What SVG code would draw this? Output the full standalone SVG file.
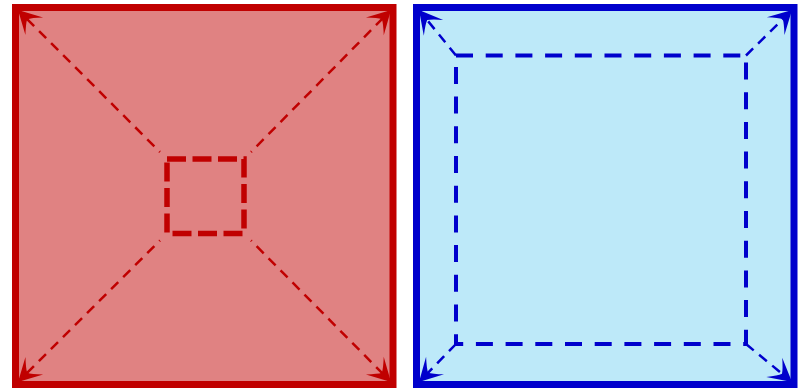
<svg xmlns="http://www.w3.org/2000/svg" width="805" height="388" viewBox="0 0 805 388">
<style>
.redbox{fill:#e08282;stroke:#c00000;stroke-width:7}
.bluebox{fill:#bde9f9;stroke:#0000cc;stroke-width:7}
.redin{fill:none;stroke:#c00000;stroke-width:5.5;stroke-dasharray:19 6.5}
.bluein{fill:none;stroke:#0000cc;stroke-width:4;stroke-dasharray:17 12.7}
.reddiag{fill:none;stroke:#c00000;stroke-width:2.5;stroke-dasharray:10 7;stroke-dashoffset:9;marker-end:url(#ar)}
.bluediag{fill:none;stroke:#0000cc;stroke-width:2.5;stroke-dasharray:10 7;marker-end:url(#ab)}
</style>
<defs>
<marker id="ar" markerUnits="userSpaceOnUse" viewBox="-26 -14 28 28" refX="0" refY="0" markerWidth="28" markerHeight="28" orient="auto">
<path d="M0,0 L-23,-12.5 Q-15,-4 -13,0 Q-15,4 -23,12.5 Z" fill="#c00000"/>
</marker>
<marker id="ab" markerUnits="userSpaceOnUse" viewBox="-26 -14 28 28" refX="0" refY="0" markerWidth="28" markerHeight="28" orient="auto">
<path d="M0,0 L-23,-12.5 Q-15,-4 -13,0 Q-15,4 -23,12.5 Z" fill="#0000cc"/>
</marker>
</defs>
<g id="red-outer"><rect class="redbox" x="15.5" y="7.5" width="377.5" height="377"/></g>
<g id="blue-outer"><rect class="bluebox" x="416.5" y="7.5" width="377.5" height="377"/></g>
<g id="red-inner"><path class="redin" d="M167,159 H244 V233.5 H167 Z"/></g>
<g id="blue-inner"><path class="bluein" d="M456,55.5 H746 V344 H456 Z"/></g>
<g id="connectors">
<path class="reddiag" d="M160,152 L18,10"/>
<path class="reddiag" d="M251,152 L391,10"/>
<path class="reddiag" d="M160,240.5 L18,382"/>
<path class="reddiag" d="M251,240.5 L391,382"/>
<path class="bluediag" d="M456,55.5 L419,10"/>
<path class="bluediag" d="M746,55.5 L792,10"/>
<path class="bluediag" d="M456,344 L419,382"/>
<path class="bluediag" d="M746,344 L792,382"/>
</g>
</svg>
